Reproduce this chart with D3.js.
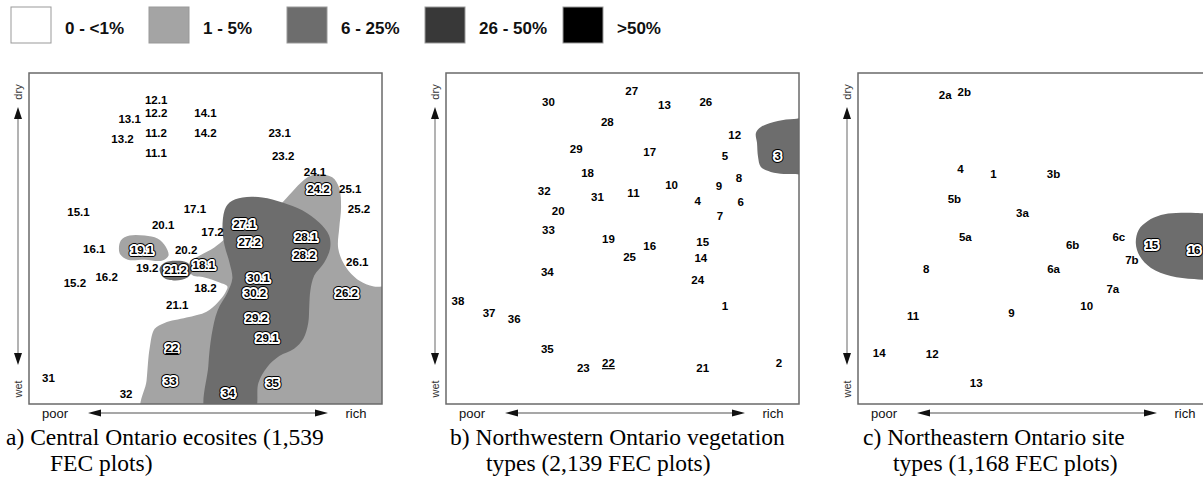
<!DOCTYPE html>
<html>
<head>
<meta charset="utf-8">
<script src="https://cdn.jsdelivr.net/npm/d3@7"></script>
<style>
  body { margin: 0; background: #fff; }
  svg { display: block; }
</style>
</head>
<body>
<div id="chart"></div>
<script>
// legend classes (percent of plots)
var legendLabels = ["0 - <1%", "1 - 5%", "6 - 25%", "26 - 50%", ">50%"];

// ordination positions, 0 = poor / wet, 100 = rich / dry
var centralSites = [
  ["12.1", 36, 92], ["12.2", 36, 88], ["13.1", 28.5, 86], ["13.2", 26.5, 80],
  ["11.2", 36, 82], ["11.1", 36, 76], ["14.1", 50, 88], ["14.2", 50, 82],
  ["23.1", 71, 82], ["23.2", 72, 75], ["24.1", 81, 70], ["24.2", 82, 65],
  ["25.1", 91, 65], ["25.2", 93.5, 59], ["15.1", 14, 58], ["17.1", 47, 59],
  ["20.1", 38, 54], ["17.2", 52, 52], ["27.1", 61, 54.5], ["28.1", 78.5, 50.5],
  ["27.2", 62.5, 49], ["16.1", 18.5, 47], ["19.1", 32, 46.5], ["20.2", 44.5, 46.5],
  ["28.2", 78, 45], ["26.1", 93, 43], ["19.2", 33.5, 41], ["21.2", 41.5, 40.5],
  ["18.1", 49.5, 42], ["16.2", 22, 38.5], ["15.2", 13, 36.5], ["30.1", 65, 38],
  ["18.2", 50, 35], ["30.2", 64, 33.5], ["26.2", 90, 33.5], ["21.1", 42, 30],
  ["29.2", 64.5, 26], ["29.1", 67.5, 20], ["22", 40.5, 17], ["31", 5.5, 8],
  ["33", 40, 7], ["34", 56.5, 3.5], ["35", 69, 6.5], ["32", 27.5, 3]
];

var centralLight = [
  [32.2, -3], [33.3, 7], [34.2, 17], [35.6, 22.7], [38.4, 24.5], [44.6, 26.1],
  [50.3, 27.9], [53.4, 30.6], [55.6, 33.6], [56.2, 35.5], [54, 36.7], [49.7, 38.2],
  [46, 39.1], [45.5, 42.7], [48.3, 44.8], [52.5, 47.3], [55.6, 50], [59.6, 53.9],
  [69.5, 58.5], [72.3, 61.5], [78.5, 68.2], [81.4, 69.4], [85.9, 68.5], [87.9, 65.2],
  [88.4, 59.4], [87.9, 53.3], [87.6, 47], [89.5, 41.8], [93.5, 37.3], [97.7, 35.5],
  [103, 34.8], [103, -3]
];

var centralLightBlob = [
  [26, 49.4], [28.5, 50.9], [32.8, 50.9], [36.4, 50], [38.7, 47.6], [39.5, 44.8],
  [37.6, 43.3], [32.8, 43.6], [28, 43.6], [25.7, 45.5]
];

var centralDark = [
  [55.4, 58.5], [56.8, 60.9], [60.5, 62.4], [66.1, 62.4], [71.8, 60.9], [77.4, 58.5],
  [82.2, 54.8], [85, 50.9], [85.3, 47], [83.6, 42.7], [80.8, 38.8], [79.7, 34.2],
  [79.4, 29.7], [79.1, 24.5], [77.7, 19.7], [75.1, 16.7], [70.9, 14.5], [67.5, 11.2],
  [65, 6.4], [63.6, -3], [50.3, -3], [50.8, 11.5], [51.7, 20.6], [53.4, 28.2],
  [56.2, 33.6], [57.6, 37.9], [56.8, 42.7], [55.4, 47.9], [54.8, 53]
];

var centralDarkBlob = [
  [37, 40.9], [38.4, 42.7], [41.5, 43.3], [44.9, 42.7], [46.3, 40.6], [44.9, 38.2],
  [41.5, 37.3], [38.1, 38.2]
];

var northwestSites = [
  ["30", 29, 91.2], ["27", 52.6, 94.6], ["13", 61.9, 90.3], ["26", 73.6, 91.2],
  ["28", 45.7, 85.2], ["12", 81.8, 81.3], ["29", 36.9, 77], ["17", 57.7, 76.1],
  ["5", 79, 74.9], ["3", 94, 74.9], ["18", 40.1, 69.8], ["8", 83, 68.3],
  ["10", 63.9, 66.2], ["9", 77.3, 65.9], ["32", 27.8, 64.4], ["31", 42.9, 62.5],
  ["11", 53.1, 63.7], ["4", 71.3, 61.3], ["6", 83.5, 61], ["20", 31.8, 58.3],
  ["7", 77.6, 56.8], ["33", 29, 52.6], ["19", 46, 49.8], ["16", 57.7, 47.7],
  ["15", 72.7, 48.9], ["25", 52, 44.4], ["14", 72.2, 44.1], ["34", 28.7, 39.9],
  ["24", 71.3, 37.5], ["38", 3.4, 31.1], ["1", 79, 29.6], ["37", 12.2, 27.5],
  ["36", 19.3, 25.7], ["35", 28.7, 16.6], ["22", 46, 12.4], ["23", 38.9, 10.9],
  ["21", 72.7, 10.9], ["2", 94.3, 12.4]
];

var northwestDark = [
  [87.8, 81.9], [89.2, 83.7], [94, 85.5], [98.6, 86.1], [103, 86], [103, 69.2],
  [99.1, 69.5], [95.7, 69.5], [92, 70.1], [89.2, 71.6], [88.4, 74.6], [88.1, 78.9]
];

var northeastSites = [
  ["2a", 24.7, 93.4], ["2b", 30.1, 94.3], ["4", 29, 71], ["1", 38.4, 69.5],
  ["3b", 55.4, 69.5], ["5b", 27.3, 61.9], ["3a", 46.6, 57.7], ["5a", 30.4, 50.5],
  ["6b", 60.8, 48], ["6c", 73.9, 50.5], ["15", 83.2, 48], ["16", 95.2, 46.5],
  ["7b", 77.6, 43.5], ["8", 19.3, 40.8], ["6a", 55.4, 40.8], ["7a", 72.2, 34.7],
  ["10", 64.8, 29.6], ["9", 43.5, 27.5], ["11", 15.6, 26.6], ["14", 6, 15.4],
  ["12", 21, 15.1], ["13", 33.5, 6.3]
];

var northeastDark = [
  [78.7, 48.6], [79.5, 52.6], [82.1, 55.3], [85.8, 57.1], [90.1, 57.7], [95.7, 57.7],
  [101.4, 56.8], [103, 50], [101.4, 38.1], [95.2, 37.8], [88.6, 38.7], [83, 41.1],
  [79.8, 44.7]
];

var captionA = ["a) Central Ontario ecosites (1,539", "FEC plots)"];
var captionB = ["b) Northwestern Ontario vegetation", "types (2,139 FEC plots)"];
var captionC = ["c) Northeastern Ontario site", "types (1,168 FEC plots)"];

var underlined = ["22"];

// ---------------------------------------------------------------
var width = 1203, height = 489;
var frameTop = 73, frameW = 353, frameH = 331;

var fill = d3.scaleOrdinal()
  .domain(legendLabels)
  .range(["#ffffff", "#a4a4a4", "#6d6d6d", "#383838", "#000000"]);

var x = d3.scaleLinear().domain([0, 100]).range([0, frameW]);
var y = d3.scaleLinear().domain([0, 100]).range([frameH, 0]);

var zonePath = d3.line()
  .x(function(d) { return x(d[0]); })
  .y(function(d) { return y(d[1]); })
  .curve(d3.curveCatmullRomClosed.alpha(0.5));

var svg = d3.select("#chart").append("svg")
  .attr("width", width)
  .attr("height", height);

// legend
var legend = svg.append("g").attr("class", "legend");
var item = legend.selectAll("g")
  .data(legendLabels)
  .enter().append("g")
  .attr("transform", function(d, i) { return "translate(" + (11 + i * 138) + ",7)"; });
item.append("rect")
  .attr("width", 40).attr("height", 36)
  .attr("fill", function(d) { return fill(d); })
  .attr("stroke", "#999").attr("stroke-width", 1);
item.append("text")
  .attr("x", 54).attr("y", 27)
  .style("font-family", "Arial, 'Liberation Sans', sans-serif")
  .style("font-size", "17px")
  .style("font-weight", "bold")
  .attr("fill", "#111")
  .text(function(d) { return d; });

var panels = [
  { id: "a", left: 29, sites: centralSites, caption: captionA, capX: 6, capIndent: 44,
    zones: [[legendLabels[1], centralLight], [legendLabels[1], centralLightBlob],
            [legendLabels[2], centralDark], [legendLabels[2], centralDarkBlob]] },
  { id: "b", left: 446, sites: northwestSites, caption: captionB, capX: 450, capIndent: 36,
    zones: [[legendLabels[2], northwestDark]] },
  { id: "c", left: 858, sites: northeastSites, caption: captionC, capX: 863, capIndent: 30,
    zones: [[legendLabels[2], northeastDark]] }
];

panels.forEach(function(p) {
  var g = svg.append("g").attr("transform", "translate(" + p.left + "," + frameTop + ")");

  g.append("clipPath").attr("id", "clip-" + p.id)
    .append("rect").attr("width", frameW).attr("height", frameH);

  // shaded zones
  g.append("g").attr("clip-path", "url(#clip-" + p.id + ")")
    .selectAll("path")
    .data(p.zones)
    .enter().append("path")
    .attr("d", function(d) { return zonePath(d[1]); })
    .attr("fill", function(d) { return fill(d[0]); });

  // frame
  g.append("rect")
    .attr("width", frameW).attr("height", frameH)
    .attr("fill", "none").attr("stroke", "#6a6a6a").attr("stroke-width", 1.5);

  // labels, with halo when sitting on a shaded zone
  var font = "Arial, 'Liberation Sans', sans-serif";
  var lab = g.append("g").selectAll("g")
    .data(p.sites)
    .enter().append("g")
    .attr("transform", function(d) { return "translate(" + x(d[1]) + "," + y(d[2]) + ")"; });

  function shaded(d) {
    return p.zones.some(function(z) { return d3.polygonContains(z[1], [d[1], d[2]]); });
  }
  function addText(sel, stroke, sw) {
    return sel.append("text")
      .attr("text-anchor", "middle")
      .attr("dy", "0.36em")
      .style("font-family", font)
      .style("font-size", "11.5px")
      .style("font-weight", "bold")
      .attr("fill", "#000")
      .attr("stroke", stroke)
      .attr("stroke-width", sw)
      .attr("stroke-linejoin", "round")
      .text(function(d) { return d[0]; });
  }
  var halo = lab.filter(shaded);
  addText(halo, "#000", 6);
  addText(halo, "#fff", 4);
  addText(lab, "none", 0)
    .attr("text-decoration", function(d) { return underlined.indexOf(d[0]) >= 0 ? "underline" : null; });

  // moisture arrow (left)
  var ax = -11;
  g.append("line")
    .attr("x1", ax).attr("x2", ax).attr("y1", 44).attr("y2", 282)
    .attr("stroke", "#8a8a8a").attr("stroke-width", 1.3);
  g.append("path")
    .attr("d", "M" + ax + ",34 l-4,12 l8,0 Z M" + ax + ",292 l-4,-12 l8,0 Z")
    .attr("fill", "#111");
  g.append("text")
    .attr("transform", "translate(" + (ax + 4) + ",19) rotate(-90)")
    .attr("text-anchor", "middle")
    .style("font-family", font).style("font-size", "11px")
    .attr("fill", "#333").text("dry");
  g.append("text")
    .attr("transform", "translate(" + (ax + 4) + ",316) rotate(-90)")
    .attr("text-anchor", "middle")
    .style("font-family", font).style("font-size", "11px")
    .attr("fill", "#333").text("wet");

  // nutrient arrow (bottom)
  var ay = frameH + 9, x0 = 59, x1 = frameW - 54;
  g.append("line")
    .attr("x1", x0 + 10).attr("x2", x1 - 10).attr("y1", ay).attr("y2", ay)
    .attr("stroke", "#8a8a8a").attr("stroke-width", 1.3);
  g.append("path")
    .attr("d", "M" + x0 + "," + ay + " l13,-3.5 l0,7 Z M" + x1 + "," + ay + " l-13,-3.5 l0,7 Z")
    .attr("fill", "#111");
  g.append("text")
    .attr("x", 26).attr("y", ay + 4.5)
    .attr("text-anchor", "middle")
    .style("font-family", font).style("font-size", "13px")
    .attr("fill", "#111").text("poor");
  g.append("text")
    .attr("x", frameW - 26).attr("y", ay + 4.5)
    .attr("text-anchor", "middle")
    .style("font-family", font).style("font-size", "13px")
    .attr("fill", "#111").text("rich");

  // caption
  svg.append("g").selectAll("text")
    .data(p.caption)
    .enter().append("text")
    .attr("x", function(d, i) { return p.capX + (i ? p.capIndent : 0); })
    .attr("y", function(d, i) { return 445 + i * 26; })
    .style("font-family", "'Times New Roman', 'Liberation Serif', serif")
    .style("font-size", "23.5px")
    .attr("fill", "#000")
    .text(function(d) { return d; });
});
</script>
</body>
</html>
